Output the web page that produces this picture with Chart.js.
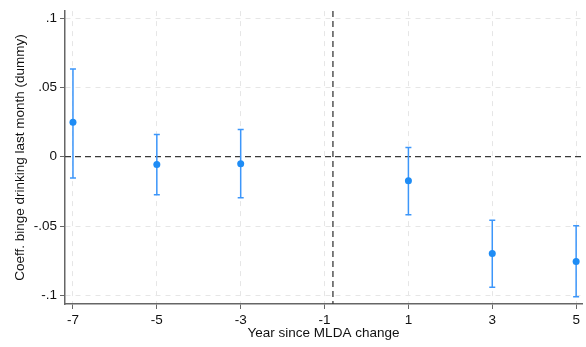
<!DOCTYPE html>
<html>
<head>
<meta charset="utf-8">
<script src="https://cdn.jsdelivr.net/npm/chart.js@4/dist/chart.umd.min.js"></script>
<style>
  html, body { margin: 0; padding: 0; background: #fff; }
  #wrap { width: 586px; height: 347px; }
</style>
</head>
<body>
<div id="wrap"><canvas id="chart" width="586" height="347"></canvas></div>
<script>
// Datos
const years = [-7, -5, -3, 1, 3, 5];
const coef = [0.0249, -0.0057, -0.005, -0.0174, -0.0697, -0.0755];
const ciLow = [-0.0153, -0.0274, -0.0296, -0.0418, -0.0941, -0.1009];
const ciHigh = [0.0633, 0.016, 0.0196, 0.0067, -0.0459, -0.0497];
const xTicks = [-7, -5, -3, -1, 1, 3, 5];
const yTicks = [-0.1, -0.05, 0, 0.05, 0.1];
const refX = -0.8;
const refY = 0;

const blue = 'rgb(30, 140, 245)';
const ciBlue = 'rgb(60, 150, 250)';

// Barras de error y líneas de referencia
const errorBars = {
    id: 'errorBars',
    beforeDatasetsDraw(chart) {
        const ctx = chart.ctx;
        const xs = chart.scales.x, ys = chart.scales.y;
        const area = chart.chartArea;
        ctx.save();
        // líneas de referencia
        ctx.strokeStyle = '#3a3a3a';
        ctx.lineWidth = 1.3;
        ctx.setLineDash([6, 4]);
        const y0 = ys.getPixelForValue(refY);
        ctx.beginPath();
        ctx.moveTo(area.left, y0);
        ctx.lineTo(area.right, y0);
        ctx.stroke();
        const x0 = xs.getPixelForValue(refX);
        ctx.beginPath();
        ctx.moveTo(x0, area.top);
        ctx.lineTo(x0, area.bottom);
        ctx.stroke();
        ctx.setLineDash([]);
        // intervalos de confianza
        ctx.strokeStyle = ciBlue;
        ctx.lineWidth = 1.5;
        years.forEach((yr, i) => {
            const x = xs.getPixelForValue(yr);
            const lo = ys.getPixelForValue(ciLow[i]);
            const hi = ys.getPixelForValue(ciHigh[i]);
            ctx.beginPath();
            ctx.moveTo(x, lo);
            ctx.lineTo(x, hi);
            ctx.moveTo(x - 3, lo);
            ctx.lineTo(x + 3, lo);
            ctx.moveTo(x - 3, hi);
            ctx.lineTo(x + 3, hi);
            ctx.stroke();
        });
        ctx.restore();
    }
};

const font = { family: "'Liberation Sans', Arial, sans-serif", size: 13.5 };

const chart = new Chart(document.getElementById('chart'), {
    type: 'scatter',
    data: {
        datasets: [{
            label: 'Coef.',
            data: years.map((yr, i) => ({ x: yr, y: coef[i] })),
            backgroundColor: blue,
            borderColor: blue,
            pointRadius: 3.5,
            pointBorderWidth: 0
        }]
    },
    options: {
        responsive: false,
        animation: false,
        layout: { padding: { top: 9, right: 0, left: 0, bottom: 0 } },
        plugins: {
            legend: { display: false },
            tooltip: { enabled: false }
        },
        scales: {
            x: {
                type: 'linear',
                min: -7.19,
                max: 5.14,
                afterBuildTicks: scale => { scale.ticks = xTicks.map(v => ({ value: v })); },
                afterFit: scale => { scale.height = 43; },
                ticks: {
                    color: '#111',
                    font: font,
                    padding: 3,
                    maxRotation: 0,
                    callback: v => String(v)
                },
                grid: {
                    color: '#e6e6e6',
                    lineWidth: 1,
                    tickLength: 5,
                    tickColor: '#666',
                    tickBorderDash: []
                },
                border: { color: '#666', width: 1.5, dash: [5, 5] },
                title: {
                    display: true,
                    text: 'Year since MLDA change',
                    color: '#111',
                    font: font,
                    padding: { top: 2, bottom: 6 }
                }
            },
            y: {
                min: -0.1062,
                max: 0.105,
                afterBuildTicks: scale => { scale.ticks = yTicks.map(v => ({ value: v })); },
                afterFit: scale => { scale.width = 65; },
                ticks: {
                    color: '#111',
                    font: font,
                    padding: 3,
                    callback: v => {
                        if (Math.abs(v) < 1e-9) return '0';
                        return String(+v.toFixed(2)).replace('0.', '.');
                    }
                },
                grid: {
                    color: '#e6e6e6',
                    lineWidth: 1,
                    tickLength: 5,
                    tickColor: '#666',
                    tickBorderDash: []
                },
                border: { color: '#666', width: 1.5, dash: [5, 5] },
                title: {
                    display: true,
                    text: 'Coeff. binge drinking last month (dummy)',
                    color: '#111',
                    font: font,
                    padding: { top: 12, bottom: 0 }
                }
            }
        }
    },
    plugins: [errorBars]
});
</script>
</body>
</html>
